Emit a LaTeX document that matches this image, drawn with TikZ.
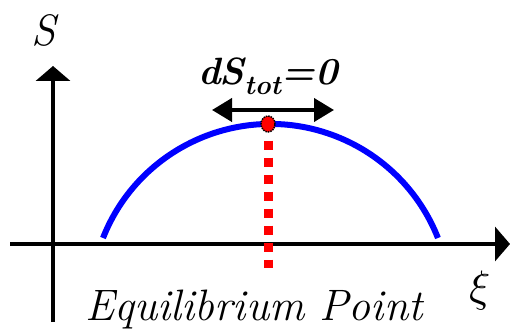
\documentclass[tikz,border=0pt]{standalone}
\usepackage{fontspec}
\usepackage{unicode-math}
\usetikzlibrary{arrows.meta, shapes.geometric}

\begin{document}
\begin{tikzpicture}[x=1pt, y=1pt,
    axis/.style={line width=4pt, -{Triangle[length=15pt, width=34pt]}},
    lab/.style={font=\fontsize{44}{50}\selectfont\itshape}]
  \useasboundingbox (0,0) rectangle (510,334);
  % axes
  \coordinate (xl) at (10,90);
  \coordinate (xr) at (510,90);
  \coordinate (yb) at (53,12);
  \coordinate (yt) at (53,268);
  \draw[axis] (xl) -- (xr);
  \draw[axis] (yb) -- (yt);
  \node[lab] (ylab) at (44,304) {S};
  \node[lab] (xlab) at (480,43) {$\xi$};
  % entropy curve, max at the equilibrium
  \coordinate (c0) at (103,96);
  \draw[blue, line width=6pt] (c0) arc[start angle=158.5, end angle=21.5, radius=180];
  \node[ellipse, fill=red, draw=black, densely dotted, line width=1.5pt,
        minimum width=14pt, minimum height=16pt, inner sep=0pt] (eq) at (268,210) {};
  \coordinate (eqb) at (268,66);
  \draw[red, line width=9pt, dash pattern=on 9pt off 8pt, dash phase=9pt] (eq) -- (eqb);
  % zero change in total entropy
  \coordinate (dl) at (212,224);
  \coordinate (dr) at (334,224);
  \draw[line width=4pt, {Triangle[length=20pt, width=23pt]}-{Triangle[length=20pt, width=23pt]}] (dl) -- (dr);
  \node[font=\fontsize{38}{44}\selectfont\bfseries\itshape, anchor=base] (dS) at (268,249)
    {d\kern-1ptS\textsubscript{\fontsize{27}{30}\selectfont tot}=0};
  \node[lab] (eqlab) at (254,25) {Equilibrium Point};
\end{tikzpicture}
\end{document}
